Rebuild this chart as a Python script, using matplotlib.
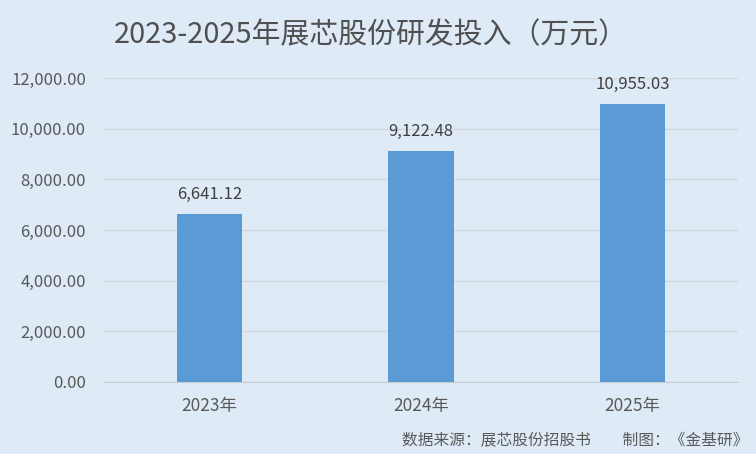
import matplotlib
matplotlib.use("Agg")
import matplotlib.pyplot as plt
from matplotlib.ticker import FuncFormatter

plt.rcParams['font.family'] = ['Noto Sans CJK SC', 'DejaVu Sans']

categories = ["2023年", "2024年", "2025年"]
values = [6641.12, 9122.48, 10955.03]
yticks = [0, 2000, 4000, 6000, 8000, 10000, 12000]
title = "2023-2025年展芯股份研发投入（万元）"
source = "数据来源：展芯股份招股书　　制图：《金基研》"

bg = "#DEEAF6"
fig = plt.figure(figsize=(7.56, 4.54), dpi=100, facecolor=bg)
ax = fig.add_axes([104 / 756, 1 - 382 / 454, 634 / 756, 304 / 454], facecolor=bg)

x = list(range(len(categories)))
ax.bar(x, values, width=0.31, color="#5B9BD5", zorder=3)
for xi, v in zip(x, values):
    ax.annotate(f"{v:,.2f}", (xi, v), xytext=(0, 8), textcoords="offset points",
                ha="center", va="bottom", fontsize=12, color="#404040")

ax.set_xlim(-0.5, 2.5)
ax.set_ylim(0, 12000)
ax.set_yticks(yticks)
ax.yaxis.set_major_formatter(FuncFormatter(lambda v, p: f"{v:,.2f}"))
ax.set_xticks(x)
ax.set_xticklabels(categories)
ax.grid(axis="y", color="#D2D8DE", linewidth=1, zorder=0)
for s in ["top", "right", "left"]:
    ax.spines[s].set_visible(False)
ax.spines["bottom"].set_color("#C8CDD2")
ax.tick_params(axis="both", length=0, labelsize=12, colors="#595959")
ax.tick_params(axis="x", pad=11, labelsize=12.5)
ax.tick_params(axis="y", pad=13)

fig.text(371 / 756, 1 - 35 / 454, title, ha="center", va="center", fontsize=20.8, color="#505050")
fig.text(748 / 756, 1 - 441 / 454, source, ha="right", va="center", fontsize=11.3, color="#595959")

fig.savefig("out.png", dpi=100, facecolor=bg)
